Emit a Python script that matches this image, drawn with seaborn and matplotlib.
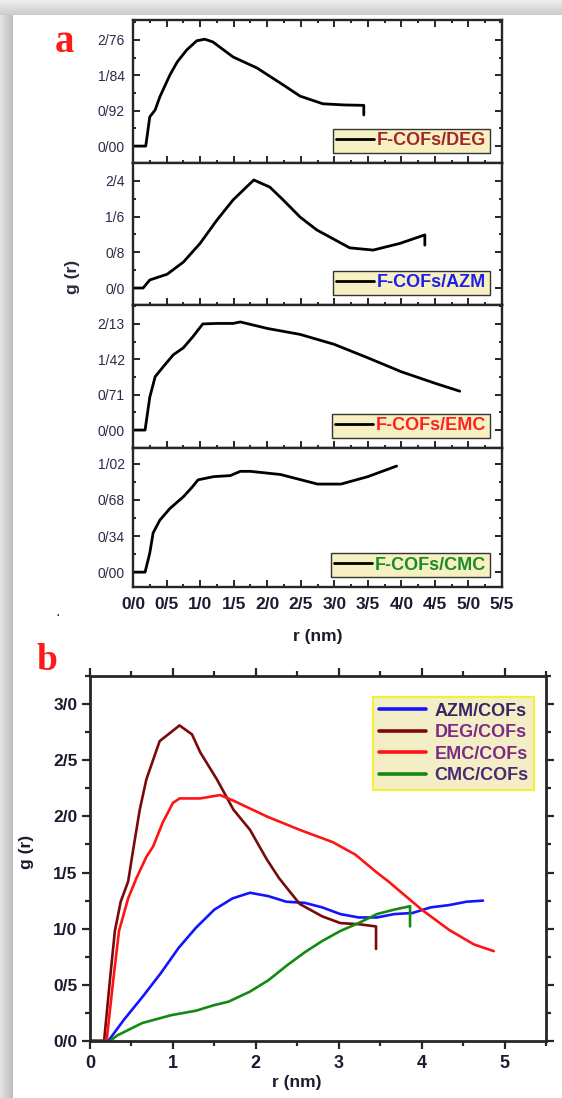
import matplotlib
matplotlib.use("Agg")
import matplotlib.pyplot as plt
from matplotlib.ticker import FixedLocator, FixedFormatter, MultipleLocator
import numpy as np
import pandas as pd
import seaborn as sns

# ---- panel a: g(r) of each system with F-COFs (values as printed, "/" = decimal sign)
DEG_A_R = [0, 0.19, 0.25, 0.33, 0.40, 0.55, 0.66, 0.80, 0.95, 1.07, 1.19, 1.49, 1.85, 2.24, 2.49, 2.83, 3.15, 3.44, 3.44]
DEG_A_G = [0, 0, 0.76, 0.94, 1.28, 1.85, 2.19, 2.50, 2.74, 2.78, 2.71, 2.32, 2.03, 1.59, 1.30, 1.10, 1.07, 1.06, 0.81]

AZM_A_R = [0, 0.15, 0.25, 0.51, 0.75, 1.00, 1.25, 1.49, 1.80, 2.04, 2.24, 2.49, 2.74, 3.23, 3.58, 3.98, 4.35, 4.35]
AZM_A_G = [0, 0, 0.18, 0.31, 0.58, 1.00, 1.52, 1.97, 2.42, 2.26, 1.97, 1.59, 1.30, 0.90, 0.85, 1.00, 1.19, 0.96]

EMC_A_R = [0, 0.18, 0.25, 0.33, 0.45, 0.60, 0.75, 0.89, 1.04, 1.25, 1.49, 1.60, 2.00, 2.49, 3.00, 3.50, 4.00, 4.50, 4.87]
EMC_A_G = [0, 0, 0.66, 1.07, 1.27, 1.51, 1.65, 1.87, 2.13, 2.14, 2.14, 2.17, 2.04, 1.92, 1.72, 1.45, 1.17, 0.94, 0.78]

CMC_A_R = [0, 0.18, 0.25, 0.30, 0.40, 0.55, 0.75, 0.88, 0.97, 1.20, 1.45, 1.60, 1.75, 2.20, 2.75, 3.10, 3.50, 3.93]
CMC_A_G = [0, 0, 0.18, 0.37, 0.49, 0.60, 0.71, 0.80, 0.87, 0.90, 0.91, 0.95, 0.95, 0.92, 0.83, 0.83, 0.90, 1.00]

A_YTICKS = {
    "DEG": ([0, 0.92, 1.84, 2.76], ["0/00", "0/92", "1/84", "2/76"], (-0.44, 3.28)),
    "AZM": ([0, 0.8, 1.6, 2.4], ["0/0", "0/8", "1/6", "2/4"], (-0.38, 2.80)),
    "EMC": ([0, 0.71, 1.42, 2.13], ["0/00", "0/71", "1/42", "2/13"], (-0.36, 2.51)),
    "CMC": ([0, 0.34, 0.68, 1.02], ["0/00", "0/34", "0/68", "1/02"], (-0.14, 1.17)),
}
A_XTICKS = [0, 0.5, 1.0, 1.5, 2.0, 2.5, 3.0, 3.5, 4.0, 4.5, 5.0, 5.5]
A_XLABELS = ["0/0", "0/5", "1/0", "1/5", "2/0", "2/5", "3/0", "3/5", "4/0", "4/5", "5/0", "5/5"]
A_LEGENDS = ["F-COFs/DEG", "F-COFs/AZM", "F-COFs/EMC", "F-COFs/CMC"]
A_LEGEND_COLORS = ["#a3262a", "#1f1fe6", "#ff2020", "#1a8c2a"]

# ---- panel b: all four systems together
AZM_B_R = [0, 0.22, 0.41, 0.63, 0.85, 1.07, 1.28, 1.50, 1.72, 1.93, 2.15, 2.37, 2.59, 2.80, 3.02, 3.24, 3.46, 3.67, 3.89, 4.11, 4.33, 4.54, 4.74]
AZM_B_G = [0, 0, 0.19, 0.39, 0.60, 0.83, 1.01, 1.17, 1.27, 1.32, 1.29, 1.24, 1.23, 1.19, 1.13, 1.10, 1.10, 1.13, 1.14, 1.19, 1.21, 1.24, 1.25]

DEG_B_R = [0, 0.17, 0.24, 0.30, 0.37, 0.46, 0.52, 0.60, 0.68, 0.84, 1.08, 1.23, 1.33, 1.53, 1.73, 1.93, 2.13, 2.28, 2.41, 2.53, 2.80, 3.02, 3.24, 3.45, 3.45]
DEG_B_G = [0, 0, 0.54, 0.98, 1.24, 1.42, 1.70, 2.06, 2.33, 2.67, 2.81, 2.73, 2.57, 2.33, 2.06, 1.88, 1.62, 1.45, 1.33, 1.22, 1.11, 1.05, 1.04, 1.02, 0.82]

EMC_B_R = [0, 0.20, 0.28, 0.35, 0.46, 0.56, 0.68, 0.76, 0.88, 1.00, 1.08, 1.33, 1.57, 1.73, 2.13, 2.53, 2.93, 3.20, 3.46, 3.60, 4.00, 4.33, 4.63, 4.87]
EMC_B_G = [0, 0, 0.54, 0.98, 1.27, 1.45, 1.64, 1.73, 1.95, 2.12, 2.16, 2.16, 2.19, 2.14, 2.00, 1.88, 1.77, 1.66, 1.50, 1.42, 1.17, 0.99, 0.86, 0.80]

CMC_B_R = [0, 0.24, 0.33, 0.63, 0.98, 1.28, 1.50, 1.67, 1.93, 2.15, 2.37, 2.59, 2.80, 3.02, 3.24, 3.46, 3.67, 3.86, 3.86]
CMC_B_G = [0, 0, 0.05, 0.16, 0.23, 0.27, 0.32, 0.35, 0.44, 0.54, 0.67, 0.79, 0.89, 0.98, 1.05, 1.13, 1.17, 1.20, 1.02]

B_NAMES = ["AZM/COFs", "DEG/COFs", "EMC/COFs", "CMC/COFs"]
B_COLORS = ["#1414ff", "#7a0a0a", "#ff1414", "#128a12"]
B_TEXT_COLORS = ["#3a2468", "#7b2d86", "#7b2d86", "#4a2a70"]
B_YTICKS = [0, 0.5, 1.0, 1.5, 2.0, 2.5, 3.0]
B_YLABELS = ["0/0", "0/5", "1/0", "1/5", "2/0", "2/5", "3/0"]
B_XTICKS = [0, 1, 2, 3, 4, 5]
B_XLABELS = ["0", "1", "2", "3", "4", "5"]

W, H = 562, 1098

sns.set_theme(style="ticks")
plt.rcParams["font.family"] = ["Liberation Sans", "DejaVu Sans"]
plt.rcParams["axes.linewidth"] = 1.7


def px_axes(fig, left, top, right, bottom, **kw):
    return fig.add_axes([left / W, 1 - bottom / H, (right - left) / W, (bottom - top) / H], **kw)


def add_shadow(fig):
    side = px_axes(fig, 0, 0, 13, H)
    side.imshow(np.linspace(0.9, 0.74, 40)[None, :], cmap="gray", vmin=0, vmax=1, aspect="auto")
    side.axis("off")
    top = px_axes(fig, 0, 0, W, 15)
    top.imshow(np.linspace(0.93, 0.8, 40)[:, None], cmap="gray", vmin=0, vmax=1, aspect="auto")
    top.axis("off")


def build_panel_a(fig):
    series = [
        ("DEG", DEG_A_R, DEG_A_G),
        ("AZM", AZM_A_R, AZM_A_G),
        ("EMC", EMC_A_R, EMC_A_G),
        ("CMC", CMC_A_R, CMC_A_G),
    ]
    edges = [20, 163, 305, 448, 587]
    for i, (name, r, g) in enumerate(series):
        ax = px_axes(fig, 133, edges[i], 502, edges[i + 1])
        df = pd.DataFrame({"r": r, "g": g})
        sns.lineplot(data=df, x="r", y="g", ax=ax, color="black", lw=2.0,
                     estimator=None, sort=False, label=A_LEGENDS[i])
        ticks, labels, ylim = A_YTICKS[name]
        ax.set_xlim(0, 5.5)
        ax.set_ylim(*ylim)
        ax.yaxis.set_major_locator(FixedLocator(ticks))
        ax.yaxis.set_major_formatter(FixedFormatter(labels))
        step = ticks[1] - ticks[0]
        ax.yaxis.set_minor_locator(MultipleLocator(step / 2))
        ax.xaxis.set_major_locator(FixedLocator(A_XTICKS))
        ax.xaxis.set_minor_locator(MultipleLocator(0.25))
        ax.tick_params(which="both", direction="in", width=1.4,
                       right=True, top=(i == 0), left=True, bottom=True)
        ax.tick_params(which="major", length=5)
        ax.tick_params(which="minor", length=2.5)
        ax.tick_params(axis="y", labelsize=10, labelcolor="#2b2b4a", pad=6)
        if i == 3:
            ax.xaxis.set_major_formatter(FixedFormatter(A_XLABELS))
            ax.tick_params(axis="x", labelsize=12.5, labelcolor="#1c1c30", pad=7)
            for t in ax.get_xticklabels():
                t.set_fontweight("bold")
        else:
            ax.set_xticklabels([])
        ax.set_xlabel("")
        ax.set_ylabel("")
        leg = ax.legend(loc="lower right", bbox_to_anchor=(0.967, 0.07), borderaxespad=0,
                        frameon=True, fancybox=False, framealpha=1, facecolor="#f6f0c2",
                        edgecolor="#333333", handlelength=2.1, handletextpad=0.15,
                        borderpad=0.2, prop={"size": 13, "weight": "bold"},
                        labelcolor=[A_LEGEND_COLORS[i]])
        leg.get_frame().set_linewidth(1.0)
        for line in leg.get_lines():
            line.set_linewidth(2.0)

    fig.text(73 / W, 1 - 277 / H, "g (r)", rotation=90, ha="center", va="center",
             fontsize=12.5, fontweight="bold", color="#2a2a40")
    fig.text(318 / W, 1 - 637 / H, "r (nm)", ha="center", va="center",
             fontsize=12.5, fontweight="bold", color="#1c1c30")
    fig.text(65 / W, 1 - 42 / H, "a", ha="center", va="center", fontsize=28,
             fontweight="bold", color="#ff1a1a", family=["Liberation Serif", "DejaVu Serif"])
    fig.text(58 / W, 1 - 612 / H, ".", ha="center", va="center", fontsize=12, color="#333333")


def build_panel_b(fig):
    ax = px_axes(fig, 90, 676, 546, 1041)
    data = [
        (AZM_B_R, AZM_B_G),
        (DEG_B_R, DEG_B_G),
        (EMC_B_R, EMC_B_G),
        (CMC_B_R, CMC_B_G),
    ]
    for (r, g), name, color in zip(data, B_NAMES, B_COLORS):
        df = pd.DataFrame({"r": r, "g": g})
        sns.lineplot(data=df, x="r", y="g", ax=ax, color=color, lw=1.9,
                     estimator=None, sort=False, label=name)
    ax.set_xlim(0, 5.5)
    ax.set_ylim(0, 3.25)
    ax.xaxis.set_major_locator(FixedLocator(B_XTICKS))
    ax.xaxis.set_major_formatter(FixedFormatter(B_XLABELS))
    ax.xaxis.set_minor_locator(MultipleLocator(0.5))
    ax.yaxis.set_major_locator(FixedLocator(B_YTICKS))
    ax.yaxis.set_major_formatter(FixedFormatter(B_YLABELS))
    ax.yaxis.set_minor_locator(MultipleLocator(0.25))
    ax.tick_params(which="both", direction="out", width=1.6, top=True, right=True)
    ax.tick_params(which="major", length=6)
    ax.tick_params(which="minor", length=3.5)
    ax.tick_params(axis="x", labelsize=13, labelcolor="#1c1c30", pad=4)
    ax.tick_params(axis="y", labelsize=12.5, labelcolor="#1c1c30", pad=3)
    for t in ax.get_xticklabels() + ax.get_yticklabels():
        t.set_fontweight("bold")
    for s in ax.spines.values():
        s.set_linewidth(2.0)
    ax.set_xlabel("")
    ax.set_ylabel("")
    leg = ax.legend(loc="upper right", bbox_to_anchor=(0.974, 0.942), borderaxespad=0,
                    frameon=True, fancybox=False, framealpha=1, facecolor="#f4eec6",
                    edgecolor="#f5f033", handlelength=2.6, handletextpad=0.5,
                    borderpad=0.3, labelspacing=0.25, prop={"size": 13, "weight": "bold"},
                    labelcolor=B_TEXT_COLORS)
    leg.get_frame().set_linewidth(1.5)
    for line in leg.get_lines():
        line.set_linewidth(2.6)

    fig.text(26 / W, 1 - 852 / H, "g (r)", rotation=90, ha="center", va="center",
             fontsize=12.5, fontweight="bold", color="#1c1c30")
    fig.text(297 / W, 1 - 1083 / H, "r (nm)", ha="center", va="center",
             fontsize=12.5, fontweight="bold", color="#1c1c30")
    fig.text(47 / W, 1 - 660 / H, "b", ha="center", va="center", fontsize=27,
             fontweight="bold", color="#ff1a1a", family=["Liberation Serif", "DejaVu Serif"])


def main():
    fig = plt.figure(figsize=(W / 100, H / 100), dpi=100)
    fig.patch.set_facecolor("white")
    add_shadow(fig)
    build_panel_a(fig)
    build_panel_b(fig)
    fig.savefig("out.png", dpi=100)
    plt.close(fig)


if __name__ == "__main__":
    main()
